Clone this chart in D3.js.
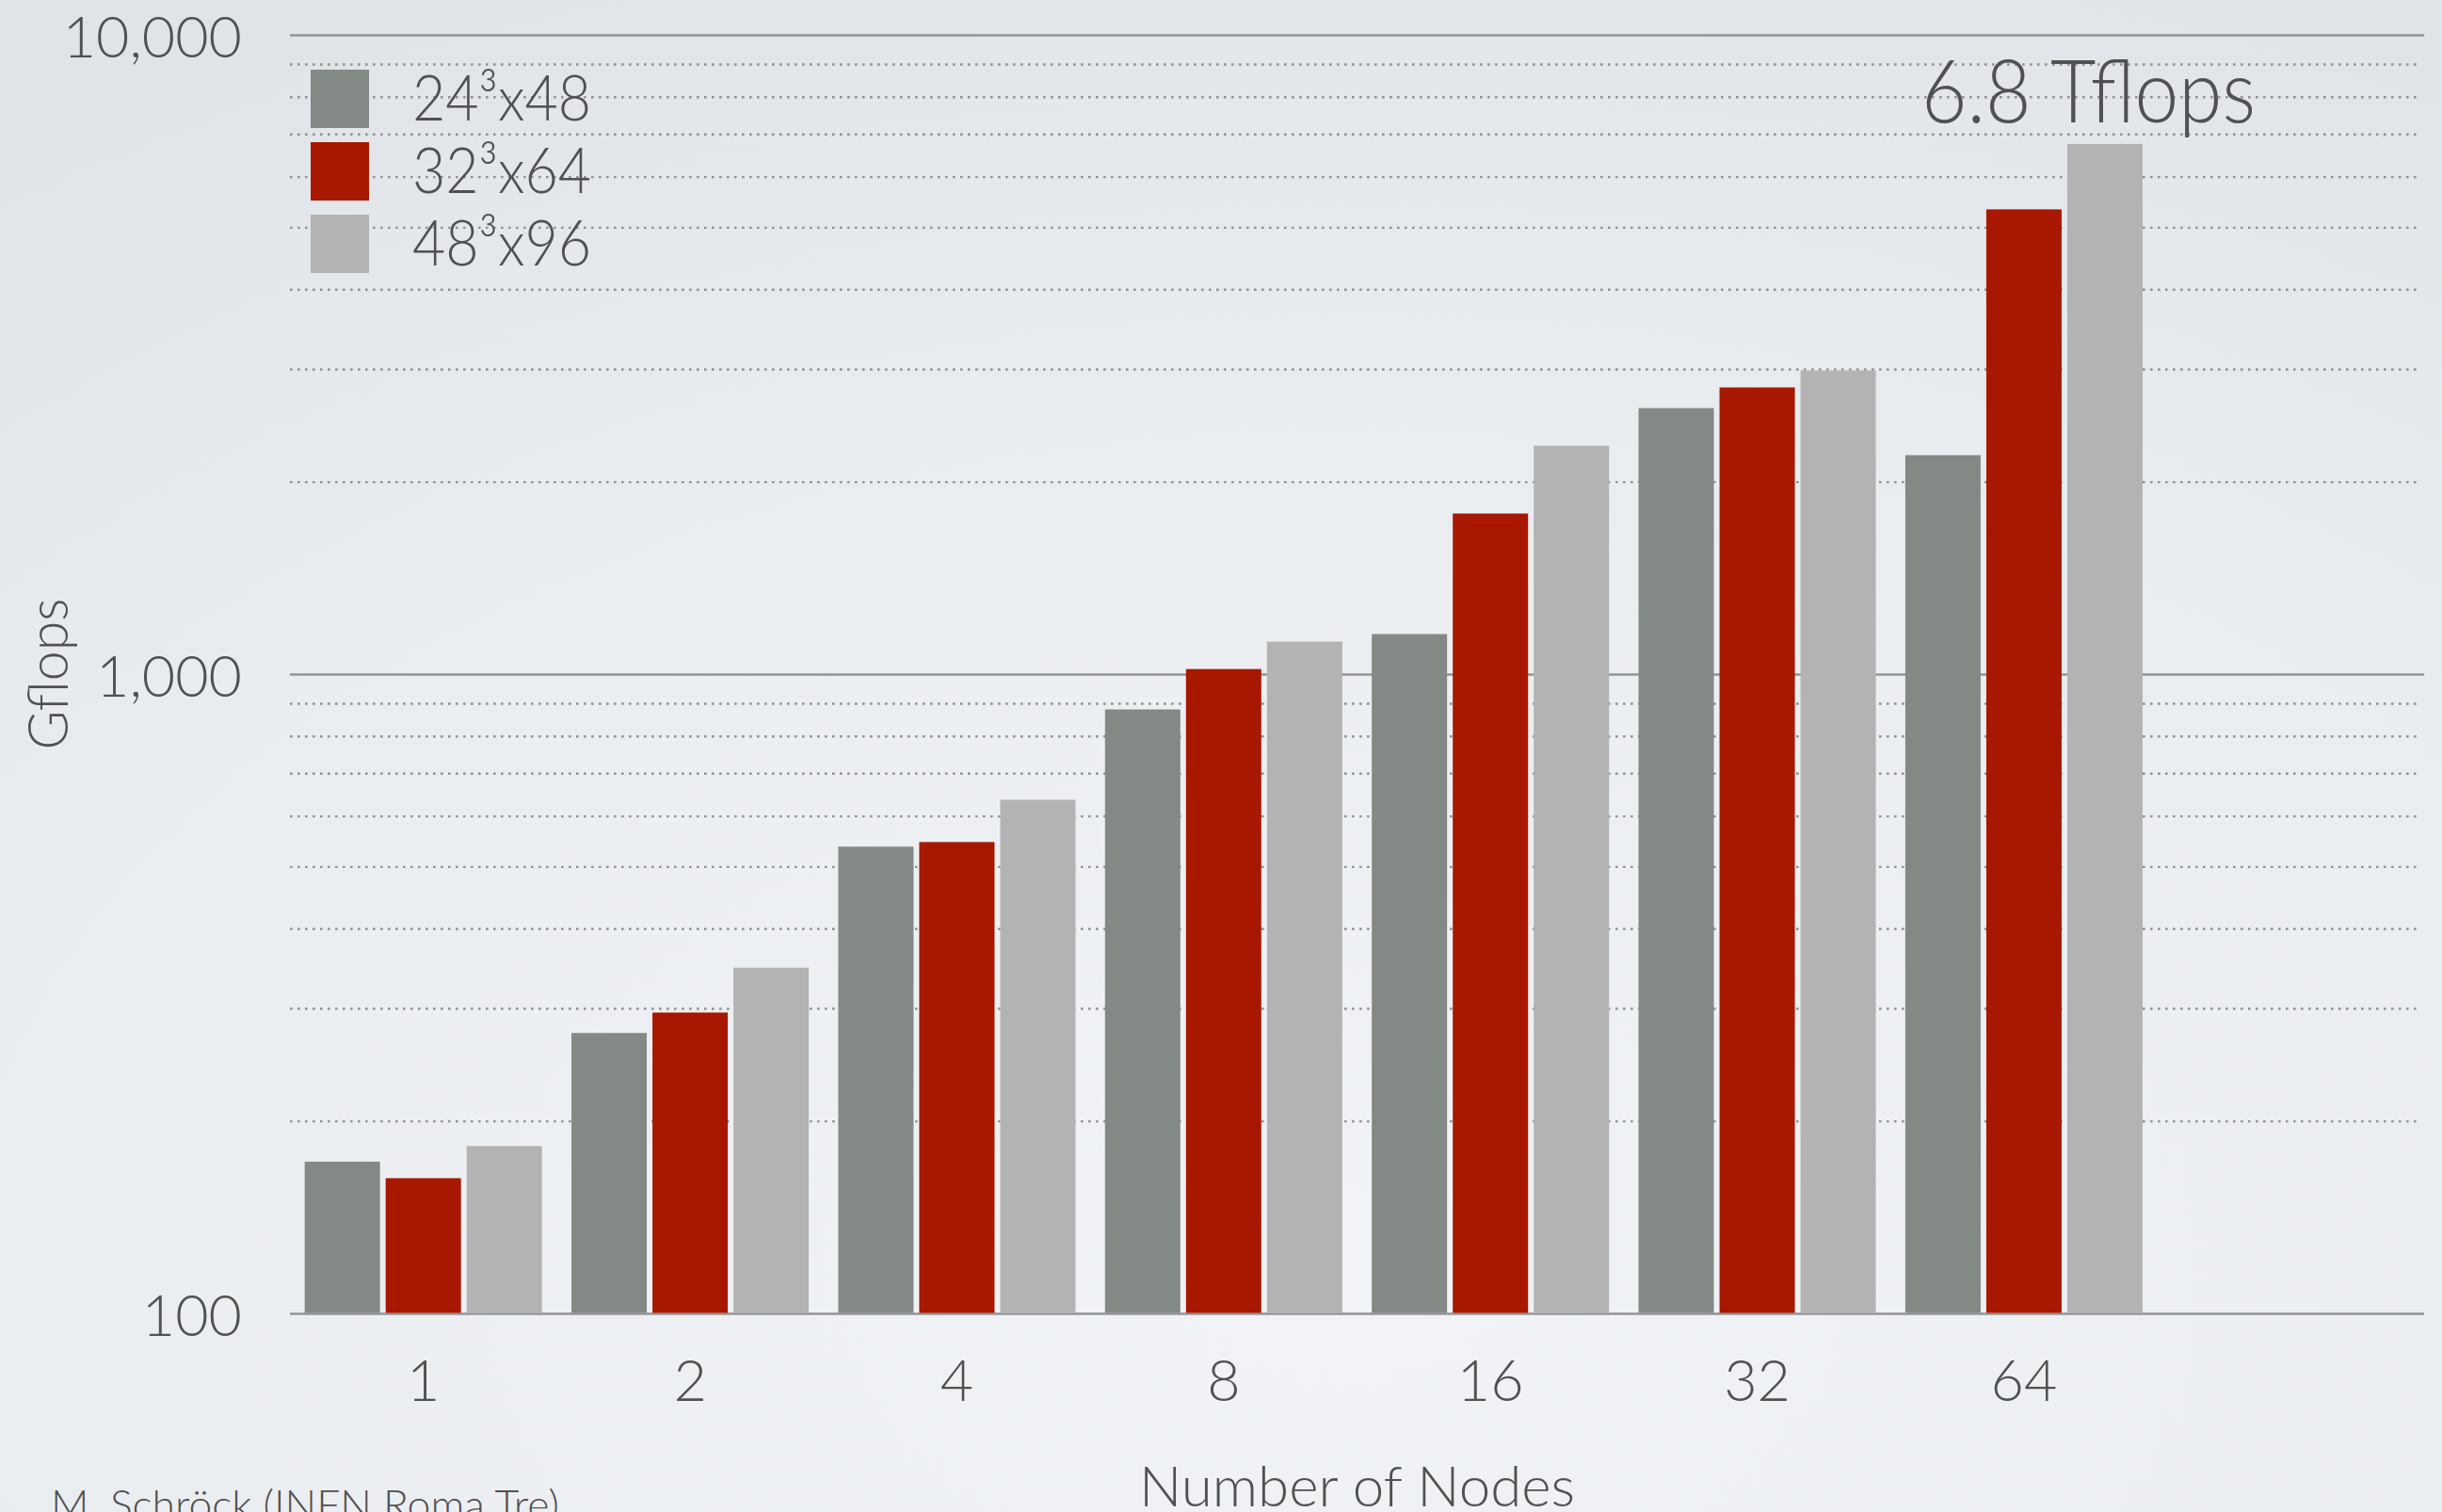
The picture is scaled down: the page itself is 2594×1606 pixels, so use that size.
<!DOCTYPE html>
<html>
<head>
<meta charset="utf-8">
<script src="https://cdn.jsdelivr.net/npm/d3@7"></script>
<style>
  html, body { margin: 0; padding: 0; overflow: hidden; background: #e8ebee; }
  svg { display: block; }
  text { font-family: Lato, "Open Sans", sans-serif; font-weight: 300; fill: #515151; }
</style>
</head>
<body>
<script>
// ---- data ----
const categories = ["1", "2", "4", "8", "16", "32", "64"];
const seriesNames = ["24³x48", "32³x64", "48³x96"];
const values24 = [173, 275, 538, 882, 1157, 2611, 2204];
const values32 = [163, 296, 547, 1020, 1786, 2813, 5342];
const values48 = [183, 348, 637, 1126, 2280, 2991, 6760];
const seriesColors = ["#838985", "#a81800", "#b3b3b3"];
const yTickValues = [100, 1000, 10000];
const xTitle = "Number of Nodes";
const yTitle = "Gflops";
const annotation = "6.8 Tflops";
const footnote = "M. Schröck (INFN Roma Tre)";

const W = 2594, H = 1606;
const plotLeft = 308, plotRight = 2575, plotTop = 37.5, plotBottom = 1395.5;

const svg = d3.select("body").append("svg").attr("width", W).attr("height", H);

// background gradient
const defs = svg.append("defs");
const grad = defs.append("radialGradient").attr("id", "bg")
  .attr("cx", "55%").attr("cy", "85%").attr("r", "95%");
grad.append("stop").attr("offset", "0%").attr("stop-color", "#f1f3f6");
grad.append("stop").attr("offset", "60%").attr("stop-color", "#eaedf0");
grad.append("stop").attr("offset", "100%").attr("stop-color", "#e0e3e7");
svg.append("rect").attr("width", W).attr("height", H).attr("fill", "url(#bg)");

// scales
const slots = categories.concat([""]); // empty trailing slot as in the original
const x = d3.scaleBand().domain(slots).range([plotLeft, plotRight]).paddingInner(0).paddingOuter(0);
const xInner = d3.scaleBand().domain(seriesNames).range([0, x.bandwidth()])
  .paddingInner(0.07).paddingOuter(0.182);
const y = d3.scaleLog().domain([100, 10000]).range([plotBottom, plotTop]);

// minor dotted gridlines
const allTicks = y.ticks();
const minor = allTicks.filter(v => !yTickValues.includes(v));
svg.append("g").selectAll("line").data(minor).join("line")
  .attr("x1", plotLeft).attr("x2", plotRight - 6)
  .attr("y1", d => y(d)).attr("y2", d => y(d))
  .attr("stroke", "#8f9193").attr("stroke-width", 2.4)
  .attr("stroke-dasharray", "2.6,5.4");

// major lines
svg.append("g").selectAll("line").data(yTickValues).join("line")
  .attr("x1", plotLeft).attr("x2", plotRight)
  .attr("y1", d => y(d)).attr("y2", d => y(d))
  .attr("stroke", "#929495").attr("stroke-width", 2.6);

// bars
const seriesValues = [values24, values32, values48];
const rows = [];
seriesValues.forEach((vals, si) => vals.forEach((v, ci) =>
  rows.push({ cat: categories[ci], s: seriesNames[si], si, v })));
svg.append("g").selectAll("rect").data(rows).join("rect")
  .attr("x", d => x(d.cat) + xInner(d.s))
  .attr("width", xInner.bandwidth())
  .attr("y", d => y(d.v))
  .attr("height", d => y(100) - y(d.v) - 1)
  .attr("fill", d => seriesColors[d.si]);

// y axis labels
const yAxis = d3.axisLeft(y).tickValues(yTickValues).tickFormat(d3.format(",")).tickSize(0).tickPadding(0);
const gy = svg.append("g").attr("transform", "translate(257,0)").call(yAxis);
gy.select(".domain").remove();
gy.selectAll("text").attr("font-size", 61).attr("dy", "0.37em")
  .style("font-family", "Lato, sans-serif").style("font-weight", 300).attr("fill", "#515151");

// x axis labels
const xAxis = d3.axisBottom(x).tickValues(categories).tickSize(0).tickPadding(0);
const gx = svg.append("g").attr("transform", "translate(0,1488)").call(xAxis);
gx.select(".domain").remove();
gx.selectAll("text").attr("font-size", 61).attr("dy", 0)
  .style("font-family", "Lato, sans-serif").style("font-weight", 300).attr("fill", "#515151");

// axis titles
svg.append("text").attr("x", (plotLeft + plotRight) / 2).attr("y", 1600)
  .attr("text-anchor", "middle").attr("font-size", 60)
  .attr("textLength", 463).attr("lengthAdjust", "spacingAndGlyphs").text(xTitle);
svg.append("text").attr("transform", "translate(72,716) rotate(-90)")
  .attr("text-anchor", "middle").attr("font-size", 60)
  .attr("textLength", 161).attr("lengthAdjust", "spacingAndGlyphs").text(yTitle);

// legend
const leg = svg.append("g").selectAll("g").data(seriesNames).join("g")
  .attr("transform", (d, i) => `translate(330,${74 + i * 77})`);
leg.append("rect").attr("width", 62).attr("height", 62).attr("fill", (d, i) => seriesColors[i]);
leg.append("text").attr("x", 108).attr("y", 54).attr("font-size", 67)
  .attr("textLength", 190).attr("lengthAdjust", "spacingAndGlyphs").text(d => d);

// annotation
svg.append("text").attr("x", 2041).attr("y", 130).attr("font-size", 92)
  .attr("textLength", 355).attr("lengthAdjust", "spacingAndGlyphs").text(annotation);

// footnote (cut off by the bottom edge, as in the original slide)
svg.append("text").attr("x", 54).attr("y", 1614).attr("font-size", 44)
  .attr("textLength", 540).attr("lengthAdjust", "spacingAndGlyphs").text(footnote);
</script>
</body>
</html>
